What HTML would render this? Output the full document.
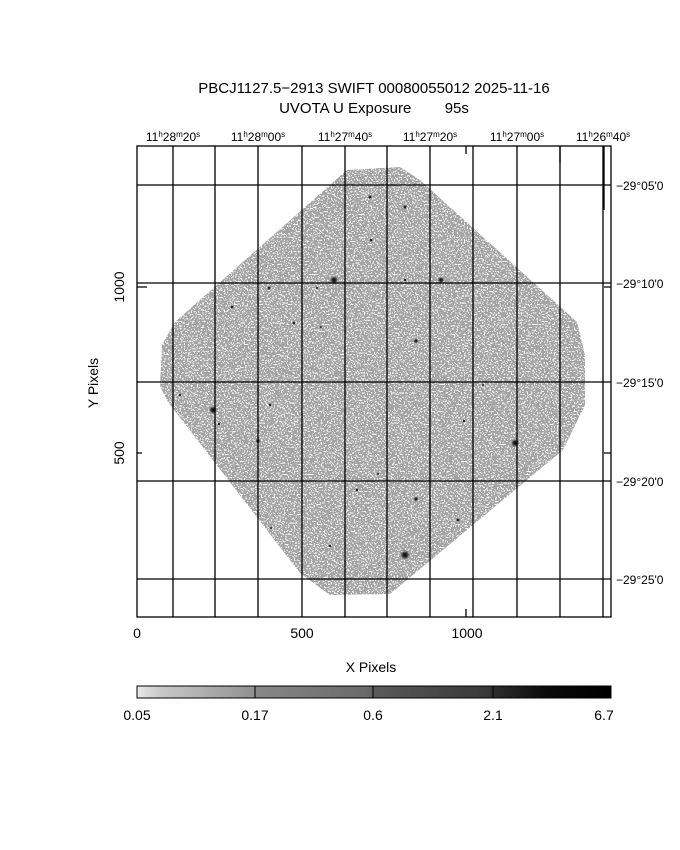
<!DOCTYPE html>
<html><head><meta charset="utf-8"><style>
html,body{margin:0;padding:0;background:#fff;}
svg{display:block;}
text{font-family:"Liberation Sans","DejaVu Sans",sans-serif;fill:#000;}
</style></head><body>
<svg width="680" height="850" viewBox="0 0 680 850" xmlns="http://www.w3.org/2000/svg">
<defs>
<filter id="nz" x="0" y="0" width="100%" height="100%">
<feTurbulence type="fractalNoise" baseFrequency="0.7" numOctaves="1" seed="7" result="t"/>
<feColorMatrix in="t" type="matrix" values="0 0 0 0 0  0 0 0 0 0  0 0 0 0 0  1 0 0 0 0" result="a"/>
<feComponentTransfer in="a" result="b"><feFuncA type="discrete" tableValues="0 0 0 0 0 1 1 1 1 1 1 1"/></feComponentTransfer>
<feFlood flood-color="#a4a4a4"/>
<feComposite in2="b" operator="in" result="g"/>
<feComposite in="g" in2="SourceGraphic" operator="in"/>
</filter>
<linearGradient id="cb" x1="0" x2="1" y1="0" y2="0">
<stop offset="0" stop-color="#e8e8e8"/>
<stop offset="0.05" stop-color="#c8c8c8"/>
<stop offset="0.249" stop-color="#909090"/>
<stop offset="0.25" stop-color="#888"/>
<stop offset="0.49" stop-color="#686868"/>
<stop offset="0.50" stop-color="#5a5a5a"/>
<stop offset="0.74" stop-color="#383838"/>
<stop offset="0.75" stop-color="#2e2e2e"/>
<stop offset="0.86" stop-color="#0a0a0a"/>
<stop offset="1" stop-color="#000"/>
</linearGradient>
<radialGradient id="st"><stop offset="0" stop-color="#000"/><stop offset="0.4" stop-color="#333"/><stop offset="1" stop-color="#999" stop-opacity="0"/></radialGradient>
</defs>

<text x="374" y="93" font-size="15" text-anchor="middle">PBCJ1127.5−2913 SWIFT 00080055012 2025-11-16</text>
<text x="374" y="113" font-size="15" text-anchor="middle" xml:space="preserve">UVOTA U Exposure        95s</text>

<polygon points="347,170 400,167 420,180 577,322 585,355 585,405 563,450 390,594 330,595 300,573 168,402 160,386 162,345 175,322" fill="#fff" filter="url(#nz)"/>

<g fill="url(#st)">
<circle cx="334" cy="280" r="5"/><circle cx="441" cy="280" r="4"/><circle cx="213" cy="410" r="5"/>
<circle cx="515" cy="443" r="5"/><circle cx="405" cy="555" r="6"/><circle cx="258" cy="441" r="3"/>
<circle cx="416" cy="341" r="3"/><circle cx="416" cy="499" r="3"/><circle cx="458" cy="520" r="2.5"/>
</g>
<g fill="#222">
<circle cx="370" cy="197" r="1.5"/><circle cx="405" cy="207" r="1.5"/><circle cx="371" cy="240" r="1.3"/>
<circle cx="269" cy="288" r="1.5"/><circle cx="232" cy="307" r="1.3"/><circle cx="294" cy="323" r="1.3"/>
<circle cx="321" cy="327" r="1"/><circle cx="180" cy="395" r="1.2"/><circle cx="270" cy="405" r="1.2"/>
<circle cx="219" cy="424" r="1.2"/><circle cx="464" cy="421" r="1.2"/><circle cx="378" cy="474" r="1"/>
<circle cx="357" cy="490" r="1.2"/><circle cx="330" cy="546" r="1.2"/><circle cx="271" cy="528" r="1"/>
<circle cx="405" cy="280" r="1.2"/><circle cx="483" cy="385" r="1"/><circle cx="317" cy="288" r="1"/>
</g>

<g stroke="#000" stroke-width="1.3" fill="none">
<rect x="137" y="146" width="474" height="471"/>
<path d="M173 146V617M215 146V617M258 146V617M302 146V617M345 146V617M387 146V617M430 146V617M473 146V617M517 146V617M560 146V617M603 146V617"/>
<path d="M137 185H611M137 283H611M137 382H611M137 481H611M137 579H611"/>
<path d="M137 287H147M137 453H142M611 287H604M611 453H604M466 146V154M466 617V609M560 146V163M604 146V210"/>
</g>

<g font-size="12" text-anchor="middle">
<text x="173" y="141">11<tspan font-size="8" dy="-4">h</tspan><tspan dy="4">28</tspan><tspan font-size="8" dy="-4">m</tspan><tspan dy="4">20</tspan><tspan font-size="8" dy="-4">s</tspan></text>
<text x="258" y="141">11<tspan font-size="8" dy="-4">h</tspan><tspan dy="4">28</tspan><tspan font-size="8" dy="-4">m</tspan><tspan dy="4">00</tspan><tspan font-size="8" dy="-4">s</tspan></text>
<text x="345" y="141">11<tspan font-size="8" dy="-4">h</tspan><tspan dy="4">27</tspan><tspan font-size="8" dy="-4">m</tspan><tspan dy="4">40</tspan><tspan font-size="8" dy="-4">s</tspan></text>
<text x="430" y="141">11<tspan font-size="8" dy="-4">h</tspan><tspan dy="4">27</tspan><tspan font-size="8" dy="-4">m</tspan><tspan dy="4">20</tspan><tspan font-size="8" dy="-4">s</tspan></text>
<text x="517" y="141">11<tspan font-size="8" dy="-4">h</tspan><tspan dy="4">27</tspan><tspan font-size="8" dy="-4">m</tspan><tspan dy="4">00</tspan><tspan font-size="8" dy="-4">s</tspan></text>
<text x="603" y="141">11<tspan font-size="8" dy="-4">h</tspan><tspan dy="4">26</tspan><tspan font-size="8" dy="-4">m</tspan><tspan dy="4">40</tspan><tspan font-size="8" dy="-4">s</tspan></text>
</g>
<g font-size="12">
<text x="616" y="190">−29°05'0</text>
<text x="616" y="288">−29°10'0</text>
<text x="616" y="387">−29°15'0</text>
<text x="616" y="486">−29°20'0</text>
<text x="616" y="584">−29°25'0</text>
</g>
<g font-size="14" text-anchor="middle">
<text x="137" y="638">0</text><text x="302" y="638">500</text><text x="467" y="638">1000</text>
<text x="371" y="672">X Pixels</text>
<text transform="translate(124,287) rotate(-90)">1000</text>
<text transform="translate(124,453) rotate(-90)">500</text>
<text transform="translate(98,383) rotate(-90)">Y Pixels</text>
</g>

<rect x="137" y="686" width="474" height="12" fill="url(#cb)" stroke="#000" stroke-width="1"/>
<path d="M255 686V698M373 686V698M493 686V698" stroke="#000"/>
<g font-size="14" text-anchor="middle">
<text x="137" y="720">0.05</text><text x="255" y="720">0.17</text><text x="373" y="720">0.6</text><text x="493" y="720">2.1</text><text x="604" y="720">6.7</text>
</g>
</svg>
</body></html>
